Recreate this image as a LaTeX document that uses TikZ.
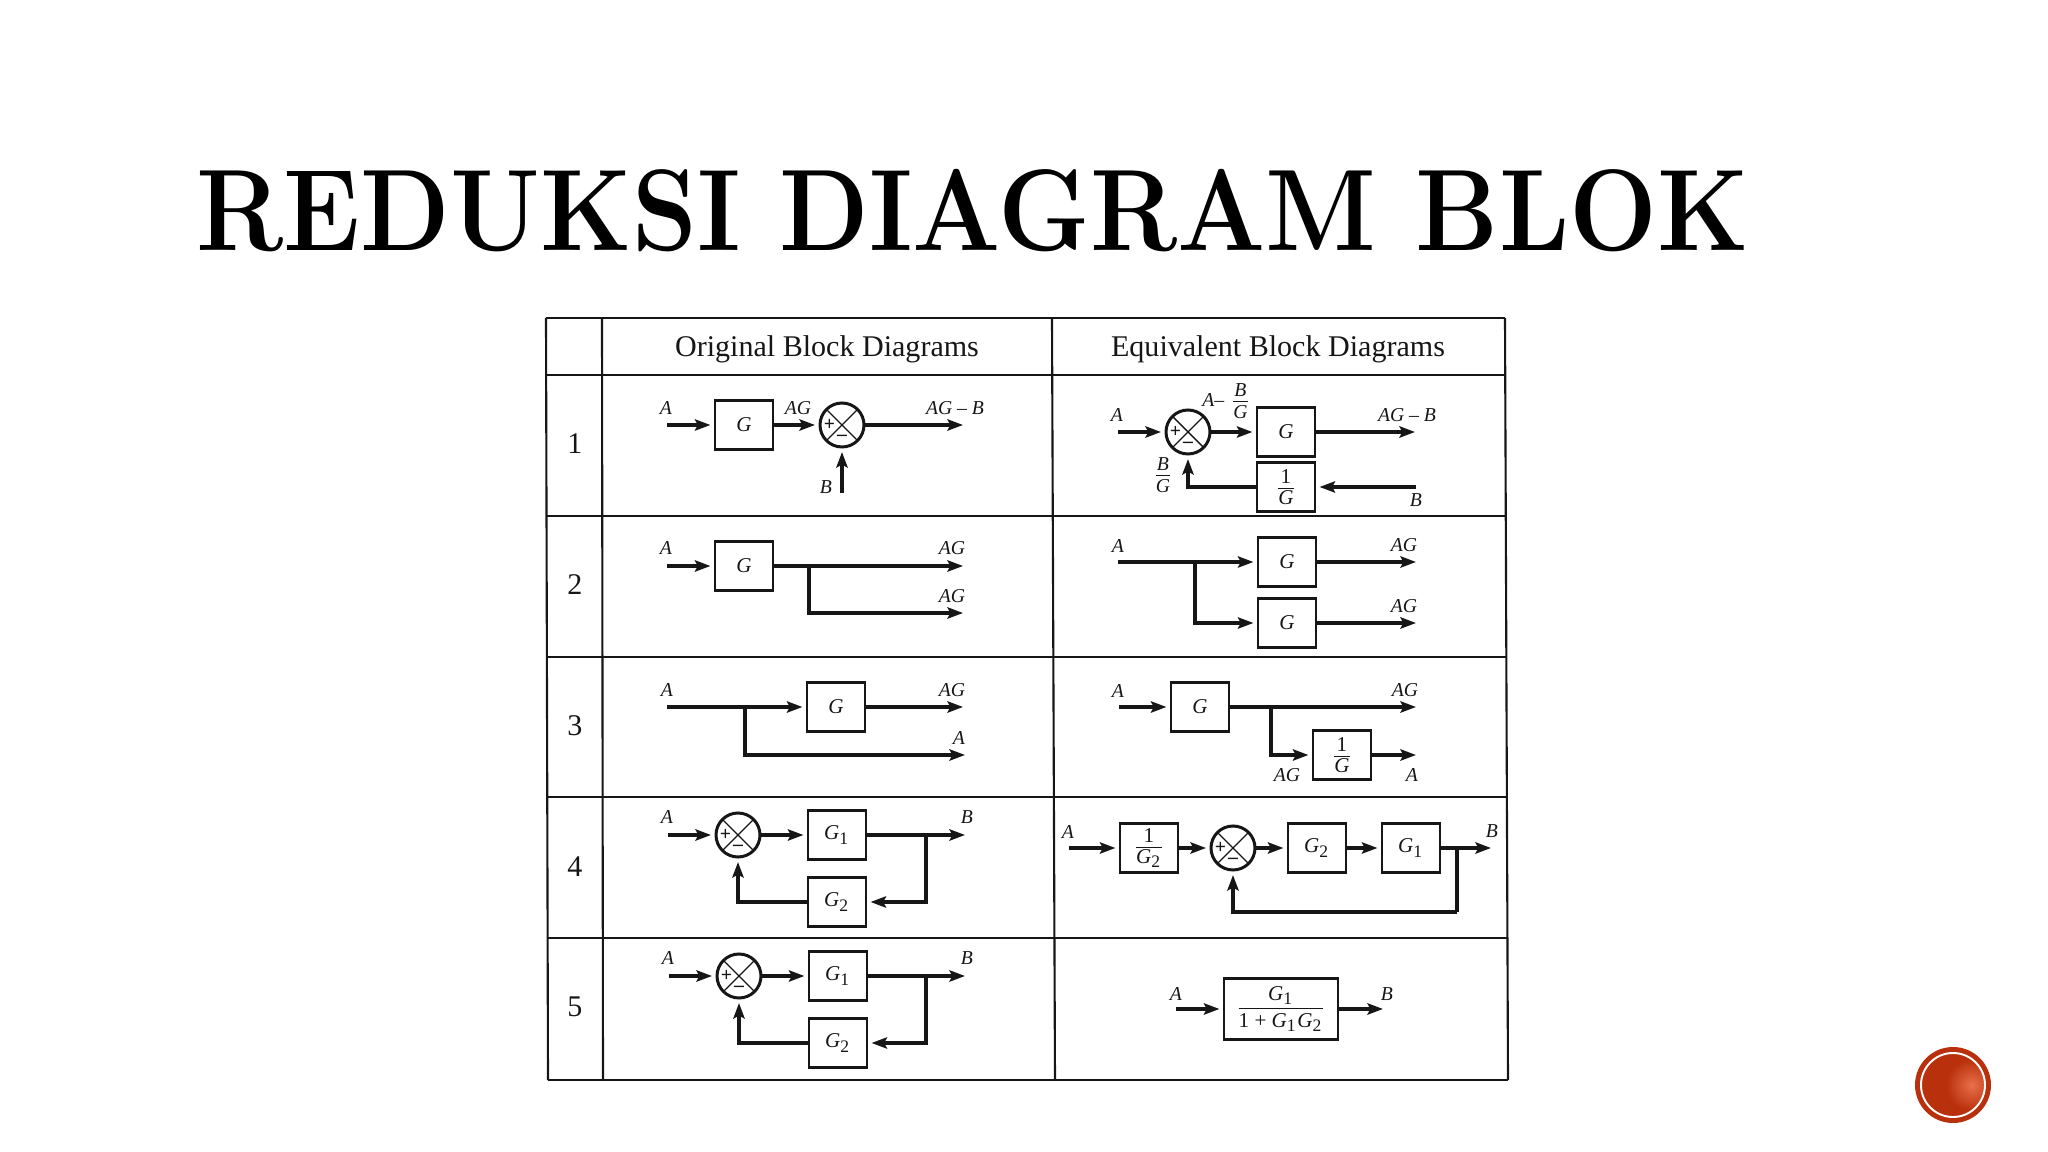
\documentclass[tikz,border=0pt]{standalone}
\usepackage{amsmath}
\usepackage{fontspec}
\usetikzlibrary{arrows.meta, positioning}
\newfontfamily\tabfont{Liberation Serif}
\newfontfamily\titlefont{Latin Modern Roman}[FakeStretch=0.897]
\definecolor{inkcol}{HTML}{161616}
\definecolor{badgecol}{HTML}{B9300C}
\definecolor{glowcol}{HTML}{E8704A}
\newcommand{\Gs}[1]{\textit{G}\textsubscript{\upshape #1}}
\newcommand{\fr}[2]{$\frac{\mbox{\raisebox{0.6pt}{#1}}}{\mbox{\raisebox{-0.6pt}{#2}}}$}
\tikzset{
  blk/.style={rectangle, draw=inkcol, line width=0.6pt, minimum width=0.58cm, minimum height=0.49cm, inner sep=0pt, text=inkcol, font=\tabfont\fontsize{6}{7}\selectfont\itshape},
  sumj/.style={circle, draw=inkcol, line width=0.85pt, minimum size=0.44cm, inner sep=0pt, path picture={
    \draw[inkcol, line width=0.4pt] (path picture bounding box.north west) -- (path picture bounding box.south east);
    \draw[inkcol, line width=0.4pt] (path picture bounding box.south west) -- (path picture bounding box.north east);}},
  sgn/.style={inner sep=0pt, text=inkcol, font=\tabfont\fontsize{5.6}{6}\selectfont\bfseries},
  lbl/.style={inner sep=0pt, text=inkcol, font=\tabfont\fontsize{5.6}{6.6}\selectfont\itshape},
  hdr/.style={inner sep=0pt, text=inkcol, font=\tabfont\fontsize{8.55}{10}\selectfont},
  sig/.style={-{Stealth[length=4.4pt,width=3.2pt,inset=0.8pt]}, draw=inkcol, line width=0.95pt, shorten >=1pt},
  sigf/.style={sig, shorten >=0pt},
  wire/.style={draw=inkcol, line width=0.95pt},
  grid/.style={draw=inkcol, line width=0.6pt},
}
\newcommand{\sumat}[2]{%
  \node[sumj] (#1) at (#2) {};
  \node[sgn] (#1p) at ([xshift=-0.125cm]#1.center) {+};
  \node[sgn] (#1m) at ([yshift=-0.13cm]#1.center) {–};}

\begin{document}
\begin{tikzpicture}[x=1cm, y=-1cm, >=Stealth]
  \useasboundingbox (0,0) rectangle (20.48,11.52);
  % ── title ────────────────────────────────────────────────────────
  \node[anchor=west, inner sep=0pt, text=black, font=\titlefont\bfseries\fontsize{33}{40}\selectfont] (title) at (1.96,2.11) {REDUKSI DIAGRAM BLOK};
  % ── table rules ──────────────────────────────────────────────────
  \draw[grid] (5.46,3.18) -- (5.48,10.80);
  \draw[grid] (6.02,3.18) -- (6.03,10.80);
  \draw[grid] (10.52,3.18) -- (10.55,10.80);
  \draw[grid] (15.05,3.18) -- (15.08,10.80);
  \foreach \ya/\xa/\xb in {3.18/5.46/15.05, 3.75/5.46/15.05, 5.16/5.46/15.06, 6.57/5.47/15.06, 7.97/5.47/15.07, 9.38/5.47/15.07, 10.80/5.48/15.08}
    \draw[grid] (\xa,\ya) -- (\xb,\ya);
  % ── headers and row numbers ──────────────────────────────────────
  \node[hdr] (hleft) at (8.27,3.49) {Original Block Diagrams};
  \node[hdr] (hright) at (12.78,3.49) {Equivalent Block Diagrams};
  \node[hdr] (n1) at (5.75,4.44) {1};
  \node[hdr] (n2) at (5.75,5.85) {2};
  \node[hdr] (n3) at (5.75,7.26) {3};
  \node[hdr] (n4) at (5.75,8.67) {4};
  \node[hdr] (n5) at (5.75,10.07) {5};
  % ── row 1, original ──────────────────────────────────────────────
  \coordinate (a1s) at (6.67,4.25);
  \node[blk] (a1g) at (7.44,4.25) {G};
  \sumat{a1j}{8.42,4.25}
  \coordinate (a1e) at (9.63,4.25);
  \coordinate (a1b) at (8.42,4.93);
  \draw[sig] (a1s) -- (a1g);
  \draw[sig] (a1g) -- (a1j);
  \draw[sigf] (a1j) -- (a1e);
  \draw[sig] (a1b) -- (a1j);
  \node[lbl] (a1la) at (6.66,4.08) {A};
  \node[lbl] (a1lg) at (7.98,4.08) {AG};
  \node[lbl] (a1lo) at (9.55,4.08) {AG – B};
  \node[lbl] (a1lb) at (8.26,4.87) {B};
  % ── row 1, equivalent ────────────────────────────────────────────
  \coordinate (b1s) at (11.18,4.32);
  \sumat{b1j}{11.88,4.32}
  \node[blk] (b1g) at (12.86,4.32) {G};
  \node[blk] (b1i) at (12.86,4.87) {\fr{\upshape 1}{G}};
  \coordinate (b1e) at (14.15,4.32);
  \coordinate (b1b) at (14.16,4.87);
  \draw[sig] (b1s) -- (b1j);
  \draw[sig] (b1j) -- (b1g);
  \draw[sigf] (b1g) -- (b1e);
  \draw[sig] (b1b) -- (b1i);
  \draw[sig] (b1i) -| (b1j);
  \node[lbl] (b1la) at (11.17,4.15) {A};
  \node[lbl] (b1lm) at (12.27,4.01) {A– \fr{B}{G}};
  \node[lbl] (b1lo) at (14.07,4.15) {AG – B};
  \node[lbl] (b1lf) at (11.63,4.75) {\fr{B}{G}};
  \node[lbl] (b1lb) at (14.16,5.00) {B};
  % ── row 2, original ──────────────────────────────────────────────
  \coordinate (a2s) at (6.67,5.66);
  \node[blk] (a2g) at (7.44,5.66) {G};
  \coordinate (a2n) at (8.09,5.66);
  \coordinate (a2e) at (9.63,5.66);
  \coordinate (a2f) at (9.63,6.13);
  \draw[sig] (a2s) -- (a2g);
  \draw[sigf] (a2g) -- (a2e);
  \draw[sigf] (a2n) |- (a2f);
  \node[lbl] (a2la) at (6.66,5.48) {A};
  \node[lbl] (a2lg) at (9.52,5.48) {AG};
  \node[lbl] (a2lh) at (9.52,5.96) {AG};
  % ── row 2, equivalent ────────────────────────────────────────────
  \coordinate (b2s) at (11.18,5.62);
  \coordinate (b2n) at (11.95,5.62);
  \node[blk] (b2g) at (12.87,5.62) {G};
  \node[blk] (b2h) at (12.87,6.23) {G};
  \coordinate (b2e) at (14.16,5.62);
  \coordinate (b2f) at (14.16,6.23);
  \draw[sig] (b2s) -- (b2g);
  \draw[sig] (b2n) |- (b2h);
  \draw[sigf] (b2g) -- (b2e);
  \draw[sigf] (b2h) -- (b2f);
  \node[lbl] (b2la) at (11.18,5.46) {A};
  \node[lbl] (b2lg) at (14.04,5.45) {AG};
  \node[lbl] (b2lh) at (14.04,6.06) {AG};
  % ── row 3, original ──────────────────────────────────────────────
  \coordinate (a3s) at (6.67,7.07);
  \coordinate (a3n) at (7.45,7.07);
  \node[blk] (a3g) at (8.36,7.07) {G};
  \coordinate (a3e) at (9.63,7.07);
  \coordinate (a3f) at (9.65,7.55);
  \draw[sig] (a3s) -- (a3g);
  \draw[sigf] (a3g) -- (a3e);
  \draw[sigf] (a3n) |- (a3f);
  \node[lbl] (a3la) at (6.67,6.90) {A};
  \node[lbl] (a3lg) at (9.52,6.90) {AG};
  \node[lbl] (a3lh) at (9.59,7.38) {A};
  % ── row 3, equivalent ────────────────────────────────────────────
  \coordinate (b3s) at (11.19,7.07);
  \node[blk] (b3g) at (12.00,7.07) {G};
  \coordinate (b3n) at (12.71,7.07);
  \coordinate (b3e) at (14.16,7.07);
  \node[blk] (b3i) at (13.42,7.55) {\fr{\upshape 1}{G}};
  \coordinate (b3f) at (14.16,7.55);
  \draw[sig] (b3s) -- (b3g);
  \draw[sigf] (b3g) -- (b3e);
  \draw[sig] (b3n) |- (b3i);
  \draw[sigf] (b3i) -- (b3f);
  \node[lbl] (b3la) at (11.18,6.91) {A};
  \node[lbl] (b3lg) at (14.05,6.90) {AG};
  \node[lbl] (b3lh) at (12.87,7.75) {AG};
  \node[lbl] (b3lo) at (14.12,7.75) {A};
  % ── row 4, original ──────────────────────────────────────────────
  \coordinate (a4s) at (6.68,8.35);
  \sumat{a4j}{7.38,8.35}
  \node[blk] (a4g) at (8.37,8.35) {\Gs{1}};
  \node[blk] (a4h) at (8.37,9.02) {\Gs{2}};
  \coordinate (a4n) at (9.26,8.35);
  \coordinate (a4e) at (9.65,8.35);
  \draw[sig] (a4s) -- (a4j);
  \draw[sig] (a4j) -- (a4g);
  \draw[sigf] (a4g) -- (a4e);
  \draw[sig] (a4n) |- (a4h);
  \draw[sig] (a4h) -| (a4j);
  \node[lbl] (a4la) at (6.67,8.17) {A};
  \node[lbl] (a4lb) at (9.67,8.17) {B};
  % ── row 4, equivalent ────────────────────────────────────────────
  \coordinate (b4s) at (10.69,8.48);
  \node[blk] (b4i) at (11.49,8.48) {\fr{\upshape 1}{\Gs{2}}};
  \sumat{b4j}{12.33,8.48}
  \node[blk] (b4h) at (13.17,8.48) {\Gs{2}};
  \node[blk] (b4g) at (14.11,8.48) {\Gs{1}};
  \coordinate (b4n) at (14.57,8.48);
  \coordinate (b4e) at (14.91,8.48);
  \coordinate (b4c) at (14.57,9.12);
  \draw[sig] (b4s) -- (b4i);
  \draw[sig] (b4i) -- (b4j);
  \draw[sig] (b4j) -- (b4h);
  \draw[sig] (b4h) -- (b4g);
  \draw[sigf] (b4g) -- (b4e);
  \draw[wire] (b4n) -- (b4c);
  \draw[sig] (b4c) -| (b4j);
  \node[lbl] (b4la) at (10.68,8.32) {A};
  \node[lbl] (b4lb) at (14.92,8.31) {B};
  % ── row 5, original ──────────────────────────────────────────────
  \coordinate (a5s) at (6.69,9.76);
  \sumat{a5j}{7.39,9.76}
  \node[blk] (a5g) at (8.38,9.76) {\Gs{1}};
  \node[blk] (a5h) at (8.38,10.43) {\Gs{2}};
  \coordinate (a5n) at (9.26,9.76);
  \coordinate (a5e) at (9.65,9.76);
  \draw[sig] (a5s) -- (a5j);
  \draw[sig] (a5j) -- (a5g);
  \draw[sigf] (a5g) -- (a5e);
  \draw[sig] (a5n) |- (a5h);
  \draw[sig] (a5h) -| (a5j);
  \node[lbl] (a5la) at (6.68,9.58) {A};
  \node[lbl] (a5lb) at (9.67,9.58) {B};
  % ── row 5, equivalent ────────────────────────────────────────────
  \coordinate (b5s) at (11.76,10.09);
  \node[blk, minimum width=1.14cm, minimum height=0.61cm] (b5g) at (12.81,10.09) {\fr{\raisebox{0.8pt}{\Gs{1}}}{\raisebox{-0.8pt}{\upshape 1 + \Gs{1}\Gs{2}}}};
  \coordinate (b5e) at (13.83,10.09);
  \draw[sig] (b5s) -- (b5g);
  \draw[sigf] (b5g) -- (b5e);
  \node[lbl] (b5la) at (11.76,9.94) {A};
  \node[lbl] (b5lb) at (13.87,9.94) {B};
  % ── corner badge ─────────────────────────────────────────────────
  \node[circle, fill=badgecol, minimum size=0.76cm, inner sep=0pt] (badge) at (19.53,10.85) {};
  \begin{scope}
    \clip (badge.center) circle (0.32);
    \shade[inner color=glowcol, outer color=badgecol] (19.72,10.85) circle (0.26);
  \end{scope}
  \node[circle, draw=white, line width=0.55pt, minimum size=0.64cm, inner sep=0pt] (ring) at (badge.center) {};
\end{tikzpicture}
\end{document}
